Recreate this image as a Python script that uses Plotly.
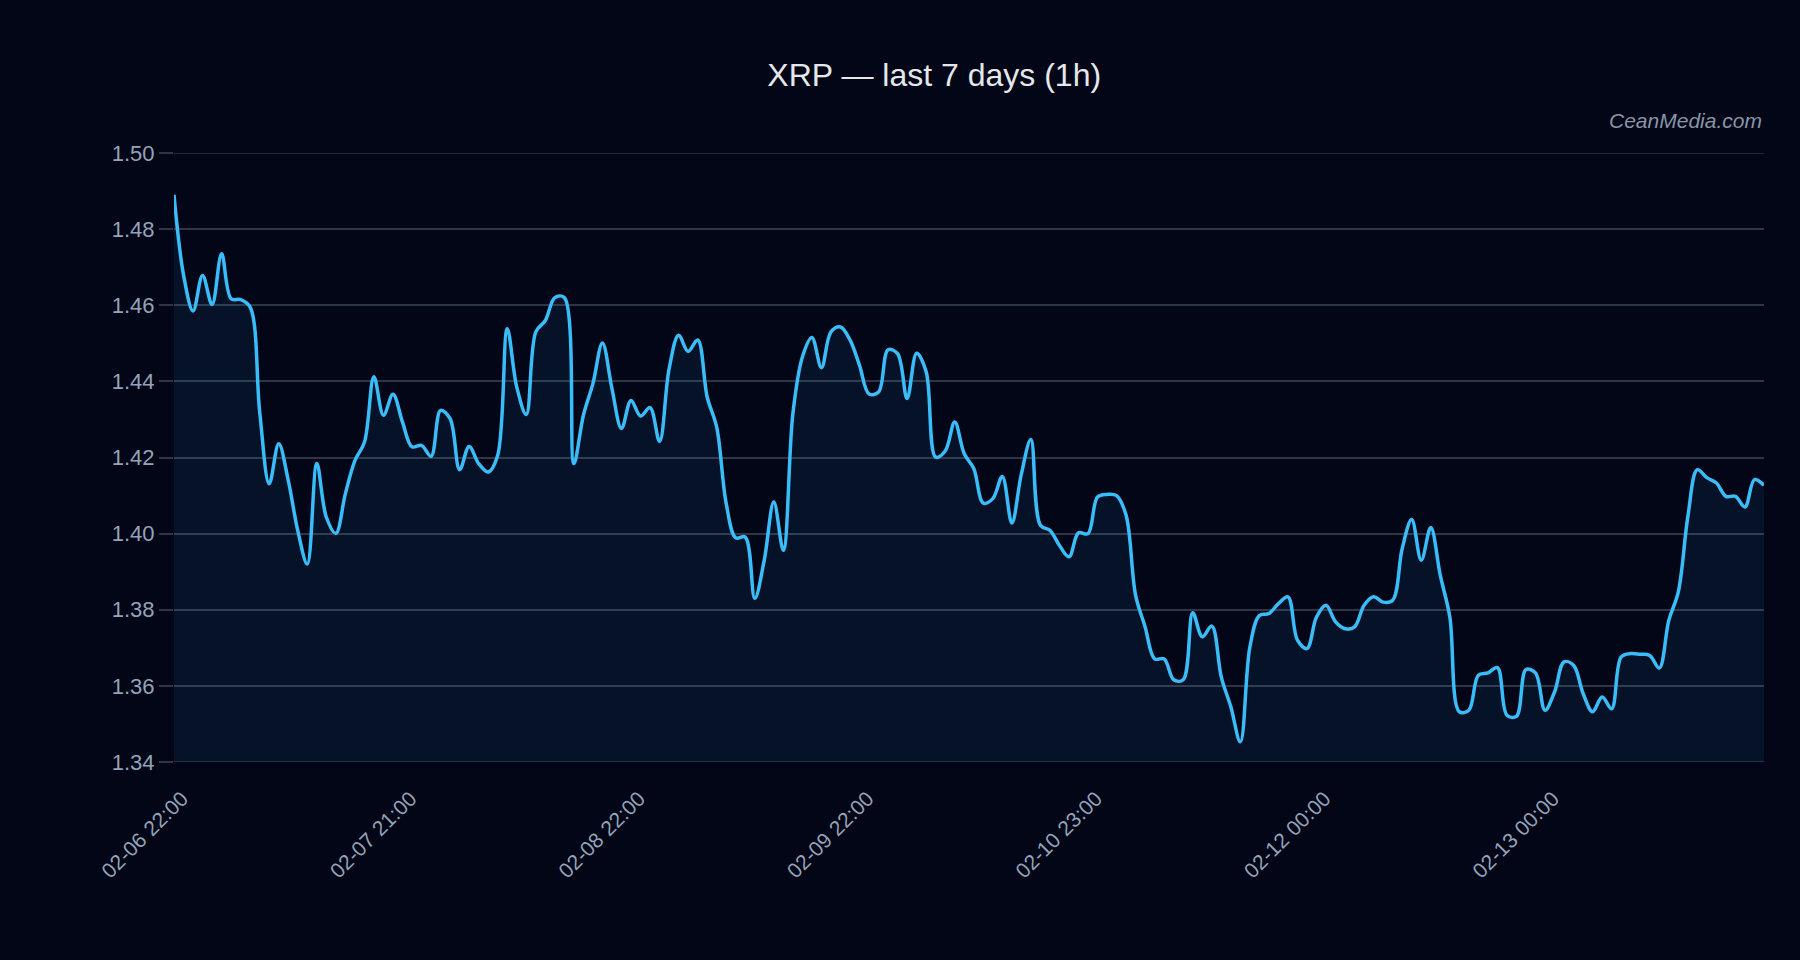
import plotly.graph_objects as go

# hourly positions (index of each 1h candle)
hour_index = list(range(168))

xrp_close = [
    1.489, 1.468, 1.4585, 1.4678, 1.4602, 1.4735, 1.4617, 1.4615, 1.4595, 1.432,
    1.4131, 1.4236, 1.414, 1.4008, 1.392, 1.4184, 1.4043, 1.4001, 1.4105, 1.4192,
    1.424, 1.4412, 1.4311, 1.4366, 1.4293, 1.4228, 1.4232, 1.4203, 1.4324, 1.4302,
    1.4168, 1.4229, 1.4184, 1.4162, 1.4206, 1.4538, 1.4385, 1.4313, 1.453, 1.456,
    1.462, 1.462, 1.4184, 1.4311, 1.4394, 1.4501, 1.4381, 1.4276, 1.435, 1.4309,
    1.4331, 1.4242, 1.4433, 1.4521, 1.4479, 1.4509, 1.4359, 1.428, 1.4079, 1.3989,
    1.3991, 1.383, 1.3931, 1.4083, 1.3956, 1.4315, 1.4464, 1.4515, 1.4436, 1.453,
    1.4543, 1.4509, 1.4442, 1.4367, 1.4372, 1.4483, 1.4473, 1.4355, 1.4474, 1.4425,
    1.4201, 1.4217, 1.4293, 1.421, 1.4171, 1.408, 1.4092, 1.415, 1.4028, 1.4157,
    1.4247, 1.4022, 1.4009, 1.3969, 1.3939, 1.4002, 1.4, 1.4096, 1.4103, 1.41,
    1.4048, 1.3838, 1.3755, 1.3671, 1.3671, 1.3616, 1.3616, 1.3792, 1.3729, 1.3757,
    1.3623, 1.3545, 1.3453, 1.3702, 1.3785, 1.379, 1.3816, 1.3834, 1.372, 1.3698,
    1.3781, 1.3812, 1.3768, 1.375, 1.3755, 1.3812, 1.3834, 1.382, 1.3825, 1.3961,
    1.4037, 1.393, 1.4016, 1.389, 1.3781, 1.3532, 1.3536, 1.3628, 1.3634, 1.3648,
    1.3523, 1.352, 1.3643, 1.3634, 1.3536, 1.3584, 1.3663, 1.3654, 1.358, 1.3532,
    1.3571, 1.354, 1.3676, 1.3685, 1.3683, 1.368, 1.3647, 1.3772, 1.3847, 1.4044,
    1.4168, 1.4147, 1.4133, 1.4098, 1.4098, 1.407, 1.4142, 1.4127,
]

x_tick_positions = [0, 24, 48, 72, 96, 120, 144]
x_tick_labels = ["02-06 22:00", "02-07 21:00", "02-08 22:00", "02-09 22:00",
                 "02-10 23:00", "02-12 00:00", "02-13 00:00"]
y_tick_values = [1.34, 1.36, 1.38, 1.40, 1.42, 1.44, 1.46, 1.48, 1.50]

BG = "#020617"
GRID = "#2c3646"
TICK = "#94a3b8"
FONT = "Liberation Sans, Arial, sans-serif"

fig = go.Figure()
fig.add_trace(go.Scatter(
    x=hour_index, y=xrp_close, mode="lines",
    line=dict(color="#38bdf8", width=3.5, shape="spline", smoothing=1),
    fill="tozeroy", fillcolor="rgba(56,189,248,0.07)",
    hoverinfo="y", showlegend=False,
))

# gridlines at the two range edges (plotly drops edge gridlines)
edge_grid = [
    dict(type="line", xref="paper", yref="y", x0=0, x1=1,
         y0=y_tick_values[i], y1=y_tick_values[i],
         line=dict(color=GRID, width=1.5), layer="below")
    for i in (0, -1)
]

fig.update_layout(
    width=1800, height=960,
    paper_bgcolor=BG, plot_bgcolor=BG,
    margin=dict(l=174, r=36, t=153, b=198),
    font=dict(family=FONT, color=TICK, size=20),
    title=dict(text="XRP — last 7 days (1h)", x=0.519, xanchor="center",
               y=1 - 75 / 960, yanchor="middle",
               font=dict(family=FONT, size=32, color="#e5e7eb")),
    xaxis=dict(range=[0, 167], tickmode="array", tickvals=x_tick_positions,
               ticktext=x_tick_labels, tickangle=-45, showgrid=False,
               zeroline=False, showline=False, ticks="outside", ticklen=15,
               tickcolor="rgba(0,0,0,0)", ticklabelshift=8,
               tickfont=dict(size=21, color=TICK)),
    yaxis=dict(range=[1.34, 1.50], tickmode="array", tickvals=y_tick_values,
               tickformat=".2f", showgrid=True, gridcolor=GRID, gridwidth=1.5,
               zeroline=False, showline=False, ticks="outside", ticklen=14,
               tickcolor=GRID, tickwidth=1.5,
               tickfont=dict(size=22, color=TICK)),
    shapes=edge_grid,
    annotations=[dict(text="<i>CeanMedia.com</i>", xref="paper", yref="paper",
                      x=1, y=(761.7 - 120) / 609, xanchor="right", yanchor="middle",
                      showarrow=False, font=dict(family=FONT, size=21, color="#8a94a6"))],
)

fig.write_html("out.html")
